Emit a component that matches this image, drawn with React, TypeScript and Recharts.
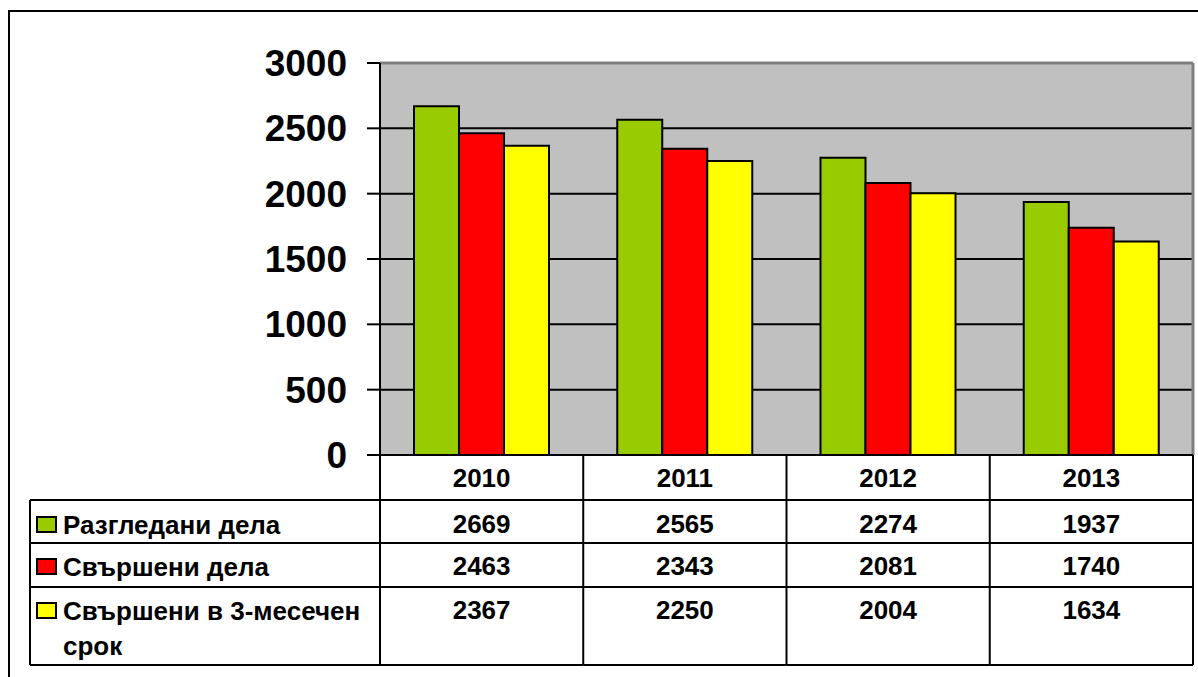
import React from 'react';
import { BarChart, Bar, XAxis, YAxis, CartesianGrid, ReferenceLine } from 'recharts';

const categories = ['2010', '2011', '2012', '2013'];
const reviewed = [2669, 2565, 2274, 1937];
const completed = [2463, 2343, 2081, 1740];
const completed3m = [2367, 2250, 2004, 1634];
const yTicks = [0, 500, 1000, 1500, 2000, 2500, 3000];
const seriesKeys = ['reviewed', 'completed', 'completed3m'];
const seriesNames = ['Разгледани дела', 'Свършени дела', 'Свършени в 3-месечен срок'];
const legendLines = [['Разгледани дела'], ['Свършени дела'], ['Свършени в 3-месечен', 'срок']];
const seriesValues = [reviewed, completed, completed3m];
const colors = ['#99CC00', '#FF0000', '#FFFF00'];

const data = categories.map((c, i) => ({
  year: c,
  reviewed: reviewed[i],
  completed: completed[i],
  completed3m: completed3m[i],
}));

const W = 1198;
const H = 677;
const PLOT_LEFT = 380;
const PLOT_RIGHT = 1193;
const PLOT_TOP = 63;
const PLOT_BOTTOM = 455;
const YAXIS_W = 80;
const XAXIS_H = 210;
const BAND = (PLOT_RIGHT - PLOT_LEFT) / categories.length;
const ROWS = [45, 43, 44, 78];
const TABLE_LEFT = 30;
const FONT = '"Liberation Sans", Arial, Helvetica, sans-serif';
const LINE = '#000';

function TableTick(props: any) {
  const { x, y, payload } = props;
  const idx = categories.indexOf(String(payload.value));
  const half = BAND / 2;
  const left = x - half;
  const right = x + half;
  const tops: number[] = [];
  let acc = 0;
  for (const r of ROWS) {
    tops.push(acc);
    acc += r;
  }
  const total = acc;
  const baselines = [32, 78, 120, 164];
  const els: any[] = [];
  els.push(<line key="vl" x1={left} x2={left} y1={y} y2={y + total} stroke={LINE} strokeWidth={2} />);
  if (idx === categories.length - 1) {
    els.push(<line key="vr" x1={right} x2={right} y1={y} y2={y + total} stroke={LINE} strokeWidth={2} />);
  }
  for (let r = 0; r <= ROWS.length; r++) {
    const yy = y + (r < ROWS.length ? tops[r] : total);
    els.push(<line key={'h' + r} x1={left} x2={right} y1={yy} y2={yy} stroke={LINE} strokeWidth={2} />);
  }
  els.push(
    <text key="yr" x={x} y={y + baselines[0]} textAnchor="middle" fontFamily={FONT} fontWeight="bold" fontSize={26} fill="#000">
      {payload.value}
    </text>
  );
  seriesValues.forEach((vals, s) => {
    els.push(
      <text key={'v' + s} x={x} y={y + baselines[s + 1]} textAnchor="middle" fontFamily={FONT} fontWeight="bold" fontSize={26} fill="#000">
        {vals[idx]}
      </text>
    );
  });
  if (idx === 0) {
    const lx = TABLE_LEFT;
    els.push(<line key="ll" x1={lx} x2={lx} y1={y + tops[1]} y2={y + total} stroke={LINE} strokeWidth={2} />);
    for (let r = 1; r <= ROWS.length; r++) {
      const yy = y + (r < ROWS.length ? tops[r] : total);
      els.push(<line key={'lh' + r} x1={lx} x2={left} y1={yy} y2={yy} stroke={LINE} strokeWidth={2} />);
    }
    legendLines.forEach((lines, s) => {
      const base = y + baselines[s + 1] + 1;
      els.push(
        <rect key={'lr' + s} x={lx + 7} y={base - 17} width={19} height={15} fill={colors[s]} stroke="#000" strokeWidth={2} />
      );
      lines.forEach((ln, k) => {
        els.push(
          <text key={'lt' + s + '-' + k} x={lx + 33} y={base + k * 35} textAnchor="start" fontFamily={FONT} fontWeight="bold" fontSize={26} fill="#000">
            {ln}
          </text>
        );
      });
    });
  }
  return <g>{els}</g>;
}

export default function App() {
  return (
    <div style={{ position: 'absolute', left: 0, top: 0, width: W, height: H, overflow: 'hidden', background: '#fff' }}>
      <div
        style={{
          position: 'absolute',
          left: 8,
          top: 10,
          width: W + 40,
          height: H + 40,
          border: '2px solid #000',
          boxSizing: 'border-box',
        }}
      />
      <div style={{ position: 'absolute', left: 0, top: 0 }}>
        <BarChart
          width={W}
          height={H}
          data={data}
          margin={{ top: PLOT_TOP, right: W - PLOT_RIGHT, bottom: H - PLOT_BOTTOM - XAXIS_H, left: PLOT_LEFT - YAXIS_W }}
          barSize={45}
          barGap={0}
        >
          <CartesianGrid vertical={false} fill="#C0C0C0" stroke="#000" strokeWidth={2} />
          <XAxis
            dataKey="year"
            height={XAXIS_H}
            axisLine={false}
            tickLine={false}
            tickSize={0}
            tickMargin={0}
            interval={0}
            tick={<TableTick />}
          />
          <YAxis
            width={YAXIS_W}
            domain={[0, 3000]}
            ticks={yTicks}
            interval={0}
            tickSize={13}
            tickMargin={20}
            axisLine={{ stroke: '#000', strokeWidth: 2 }}
            tickLine={{ stroke: '#000', strokeWidth: 2 }}
            tick={{ fill: '#000', fontSize: 37, fontWeight: 'bold', fontFamily: FONT }}
          />
          <ReferenceLine y={3000} stroke="#808080" strokeWidth={3} />
          <ReferenceLine x={categories[categories.length - 1]} position="end" stroke="#808080" strokeWidth={3} />
          {seriesKeys.map((k, i) => (
            <Bar key={k} dataKey={k} name={seriesNames[i]} fill={colors[i]} stroke="#000" strokeWidth={2} isAnimationActive={false} />
          ))}
        </BarChart>
      </div>
    </div>
  );
}
